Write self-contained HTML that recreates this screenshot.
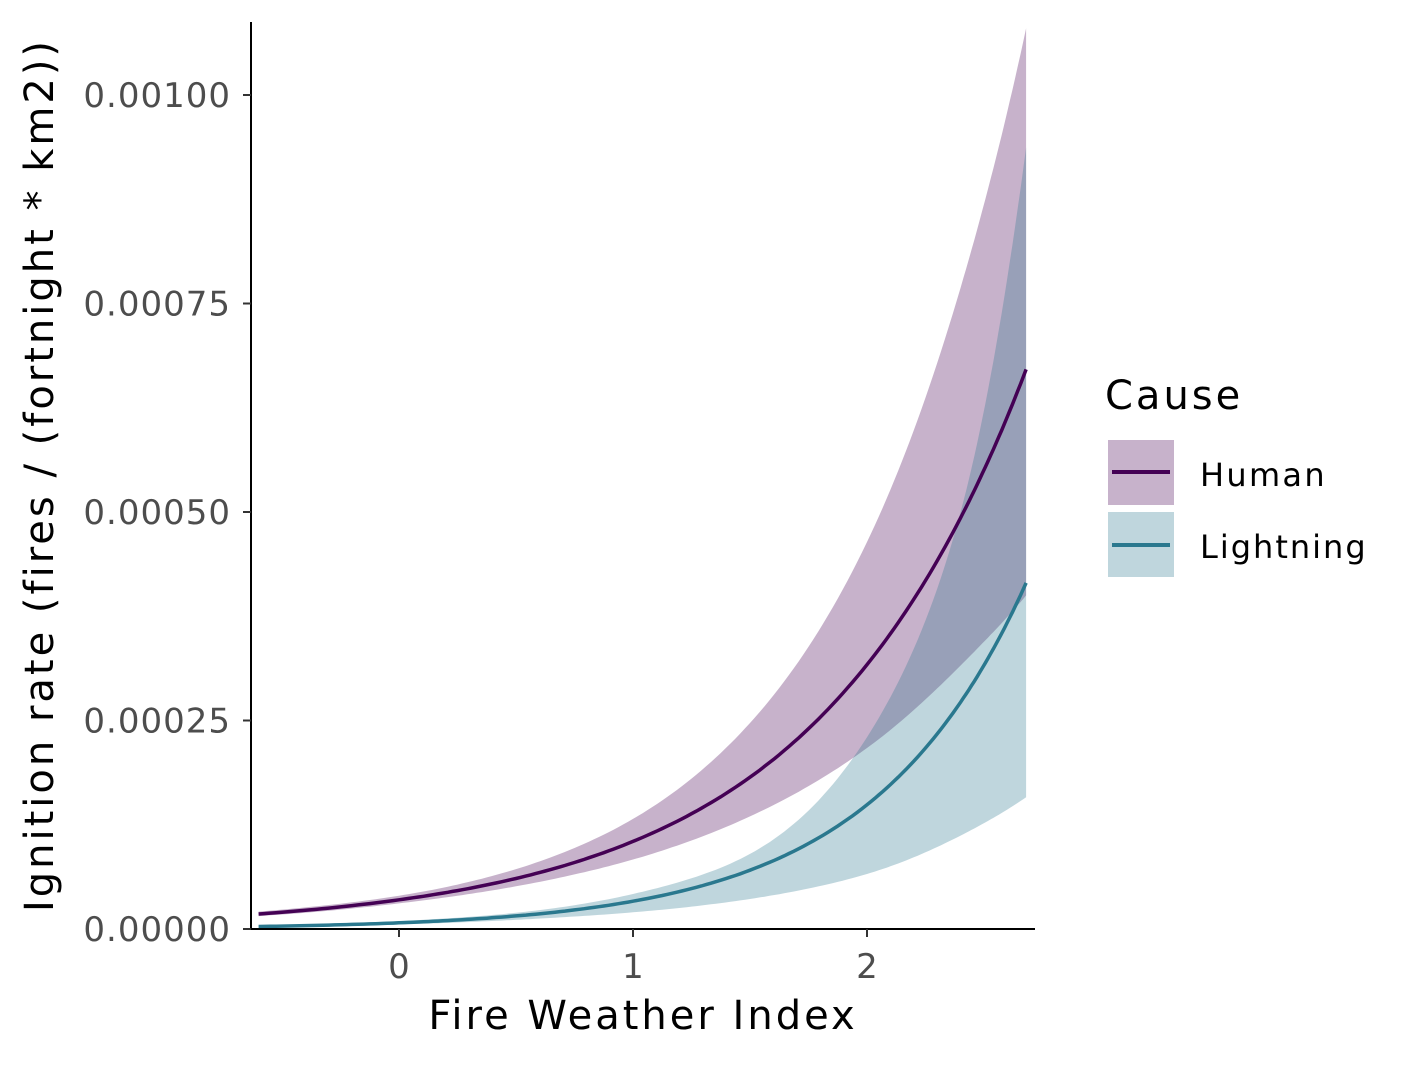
<!DOCTYPE html>
<html><head><meta charset="utf-8"><style>
body{margin:0;background:#fff;}
svg text{font-family:"DejaVu Sans","Liberation Sans",sans-serif;}
</style></head><body>
<svg id="chart" width="1417" height="1062" xmlns="http://www.w3.org/2000/svg">
<rect width="1417" height="1062" fill="#fff"/>
<g id="plot"></g>
<g id="axes"></g>
<text x="643" y="1029" font-size="40" letter-spacing="3" text-anchor="middle" fill="#000">Fire Weather Index</text>
<text transform="translate(53,475) rotate(-90)" font-size="40" letter-spacing="3" text-anchor="middle" fill="#000">Ignition rate (fires / (fortnight * km2))</text>
<g>
<text x="1105" y="409" font-size="40" letter-spacing="3" fill="#000">Cause</text>
<rect x="1108" y="440" width="66" height="65" fill="rgba(68,1,84,0.3)"/>
<line x1="1112" y1="472" x2="1170" y2="472" stroke="#440154" stroke-width="4"/>
<text x="1200" y="486" font-size="32" letter-spacing="2.3" fill="#000">Human</text>
<rect x="1108" y="512" width="66" height="65" fill="rgba(42,120,142,0.3)"/>
<line x1="1112" y1="545" x2="1170" y2="545" stroke="#2a788e" stroke-width="4"/>
<text x="1200" y="558" font-size="32" letter-spacing="2" fill="#000">Lightning</text>
</g>
</svg>
<script>
const xs = [-0.6, 0, 0.5, 1, 1.5, 2, 2.4, 2.68];
const humanMean = [0.000018, 0.0000350, 0.0000606, 0.000105, 0.000182, 0.000317, 0.000493, 0.000671];
const humanUpper = [0.0000209, 0.0000399, 0.0000718, 0.000132, 0.000247, 0.000464, 0.000769, 0.00108];
const humanLower = [0.0000155, 0.0000307, 0.0000512, 0.0000833, 0.000135, 0.000217, 0.000316, 0.000400];
const lightMean = [0.0000030, 0.0000074, 0.0000157, 0.0000333, 0.0000705, 0.000149, 0.000272, 0.000415];
const lightUpper = [0.0000040, 0.0000095, 0.0000195, 0.0000420, 0.0000900, 0.000230, 0.000500, 0.000937];
const lightLower = [0.0000019, 0.0000054, 0.0000110, 0.0000200, 0.0000360, 0.0000660, 0.000112, 0.000158];
const xTicks = [0, 1, 2];
const yTicks = [0, 0.00025, 0.0005, 0.00075, 0.001];
const yTickLabels = ["0.00000", "0.00025", "0.00050", "0.00075", "0.00100"];

const X = v => 399 + (v - 0) * 234;
const Y = v => 929 - v / 0.001 * 834;
const NS = "http://www.w3.org/2000/svg";

function sample(vals) {
  const lv = vals.map(v => Math.log(v));
  const n = xs.length;
  const d = [], m = [];
  for (let i = 0; i < n - 1; i++) d.push((lv[i+1] - lv[i]) / (xs[i+1] - xs[i]));
  m[0] = d[0]; m[n-1] = d[n-2];
  for (let i = 1; i < n - 1; i++) m[i] = (d[i-1] * d[i] <= 0) ? 0 : (d[i-1] + d[i]) / 2;
  const pts = [];
  for (let i = 0; i < n - 1; i++) {
    const h = xs[i+1] - xs[i];
    for (let k = 0; k < 24; k++) {
      const t = k / 24, t2 = t * t, t3 = t2 * t;
      const v = (2*t3-3*t2+1)*lv[i] + (t3-2*t2+t)*h*m[i] + (-2*t3+3*t2)*lv[i+1] + (t3-t2)*h*m[i+1];
      pts.push([X(xs[i] + t * h), Y(Math.exp(v))]);
    }
  }
  pts.push([X(xs[n-1]), Y(vals[n-1])]);
  return pts;
}
const toD = pts => pts.map((p, i) => (i ? "L" : "M") + p[0].toFixed(1) + "," + p[1].toFixed(1)).join("");
const plot = document.getElementById("plot");
function ribbon(up, lo, fill, name) {
  const u = sample(up), l = sample(lo).reverse();
  const p = document.createElementNS(NS, "path");
  p.setAttribute("d", toD(u.concat(l)) + "Z");
  p.setAttribute("fill", fill);
  
  
  plot.appendChild(p);
}
function line(vals, col, name) {
  const p = document.createElementNS(NS, "path");
  p.setAttribute("d", toD(sample(vals)));
  p.setAttribute("fill", "none");
  p.setAttribute("stroke", col);
  p.setAttribute("stroke-width", "3.5");
  
  
  plot.appendChild(p);
}
ribbon(humanUpper, humanLower, "rgba(68,1,84,0.3)", "human-ribbon");
ribbon(lightUpper, lightLower, "rgba(42,120,142,0.3)", "lightning-ribbon");
line(humanMean, "#440154", "human-line");
line(lightMean, "#2a788e", "lightning-line");

const axes = document.getElementById("axes");
function mk(tag, attrs, text) {
  const e = document.createElementNS(NS, tag);
  for (const k in attrs) e.setAttribute(k, attrs[k]);
  if (text !== undefined) e.textContent = text;
  axes.appendChild(e);
  return e;
}
const ya = mk("line", {x1: 251, y1: 22, x2: 251, y2: 930, stroke: "#000", "stroke-width": 2});


const xa = mk("line", {x1: 250, y1: 929, x2: 1035, y2: 929, stroke: "#000", "stroke-width": 2});


xTicks.forEach(t => {
  const tk = mk("line", {x1: X(t), y1: 929, x2: X(t), y2: 937, stroke: "#333", "stroke-width": 2});
  
  
  const lb = mk("text", {x: X(t), y: 978, "font-size": 34, "text-anchor": "middle", fill: "#4d4d4d"}, String(t));
  
  
});
yTicks.forEach((t, i) => {
  const tk = mk("line", {x1: 243, y1: Y(t), x2: 251, y2: Y(t), stroke: "#333", "stroke-width": 2});
  
  
  const lb = mk("text", {x: 231, y: Y(t) + 12, "font-size": 34, "letter-spacing": 1, "text-anchor": "end", fill: "#4d4d4d"}, yTickLabels[i]);
  
  
});
</script>
</body></html>
